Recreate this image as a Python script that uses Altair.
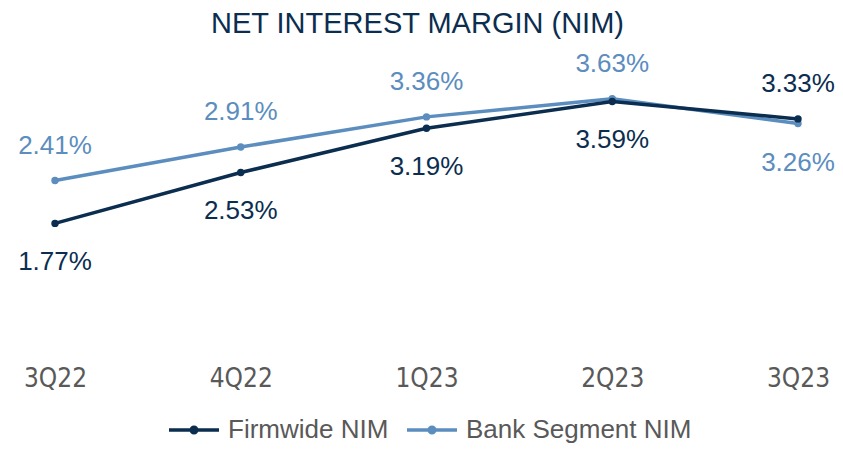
import altair as alt
import pandas as pd

quarters = ["3Q22", "4Q22", "1Q23", "2Q23", "3Q23"]
firmwide = [1.77, 2.53, 3.19, 3.59, 3.33]
bank = [2.41, 2.91, 3.36, 3.63, 3.26]
series_names = ["Firmwide NIM", "Bank Segment NIM"]
colors = ["#0B2D4F", "#5B8DBE"]

rows = []
for q, f, b in zip(quarters, firmwide, bank):
    rows.append({"quarter": q, "series": series_names[0], "value": f, "other": b})
    rows.append({"quarter": q, "series": series_names[1], "value": b, "other": f})
df = pd.DataFrame(rows)
df["label"] = df["value"].map(lambda v: f"{v:.2f}%")
df["above"] = df["value"] > df["other"]

FONT = "Liberation Sans"
NARROW = "'Arial Narrow', 'Liberation Sans Narrow', 'DejaVu Sans Condensed', 'Liberation Sans'"
color_scale = alt.Scale(domain=series_names, range=colors)

x = alt.X(
    "quarter:N", sort=quarters,
    scale=alt.Scale(type="point", range=[47, 790], padding=0),
    axis=alt.Axis(title=None, domain=False, ticks=False, grid=False, labelAngle=0,
                  labelFont=NARROW, labelFontSize=26,
                  labelColor="#595959", labelPadding=23),
)
y = alt.Y("value:Q", scale=alt.Scale(domain=[0, 4], nice=False, zero=True), axis=None)

sym = "M-1,0L1,0M-0.11,0a0.11,0.11 0 1,0 0.22,0a0.11,0.11 0 1,0 -0.22,0Z"
legend = alt.Legend(
    title=None, orient="none", direction="horizontal", legendX=159, legendY=329,
    symbolType=sym, symbolSize=2500, symbolStrokeWidth=3.5,
    labelFont=FONT, labelFontSize=26, labelColor="#595959", labelLimit=0,
    labelOffset=7, columnPadding=11, padding=0,
)

base = alt.Chart(df)

def line_layer(name):
    return base.transform_filter(alt.datum.series == name).mark_line(
        strokeWidth=3.5, point=alt.OverlayMarkDef(filled=True, size=55, opacity=1)
    ).encode(x=x, y=y, color=alt.Color("series:N", scale=color_scale, legend=legend))

lines = line_layer(series_names[1]) + line_layer(series_names[0])

text_above = base.transform_filter("datum.above").mark_text(
    font=FONT, fontSize=26, baseline="middle", dy=-35
).encode(x=x, y=y, text="label:N", color=alt.Color("series:N", scale=color_scale, legend=None))
text_below = base.transform_filter("!datum.above").mark_text(
    font=FONT, fontSize=26, baseline="middle", dy=39
).encode(x=x, y=y, text="label:N", color=alt.Color("series:N", scale=color_scale, legend=None))

chart = alt.layer(lines, text_above, text_below).properties(
    width=819, height=268,
    title=alt.TitleParams("NET INTEREST MARGIN (NIM)", font=FONT, fontSize=29,
                          fontWeight="normal", color="#0B2D4F", anchor="middle", offset=12),
    autosize=alt.AutoSizeParams(type="none"),
    padding={"left": 0, "top": 66, "right": 8, "bottom": 101},
).configure_view(stroke=None)

chart.save("out.html", embed_options={"renderer": "svg", "actions": False})
